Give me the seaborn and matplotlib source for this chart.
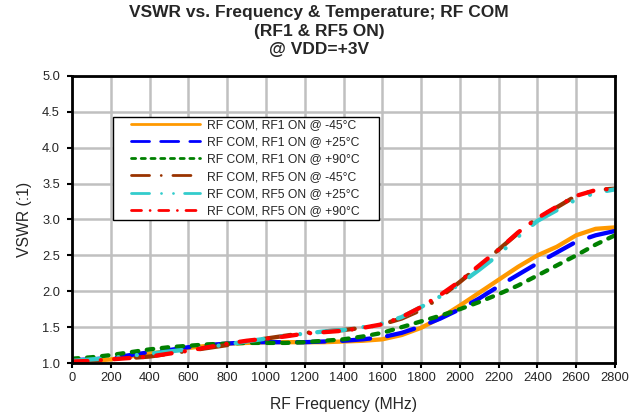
import numpy as np
import pandas as pd
import seaborn as sns
import matplotlib
matplotlib.use("Agg")
import matplotlib.pyplot as plt
from matplotlib.patches import Rectangle

freq = list(range(0, 2900, 100))

rf1_m45 = [1.02, 1.03, 1.05, 1.09, 1.13, 1.17, 1.21, 1.24, 1.27, 1.28, 1.29, 1.29, 1.29, 1.29, 1.30,
           1.31, 1.33, 1.39, 1.49, 1.63, 1.80, 1.98, 2.16, 2.34, 2.50, 2.62, 2.78, 2.87, 2.89]
rf1_p25 = [1.04, 1.05, 1.07, 1.11, 1.15, 1.18, 1.22, 1.25, 1.27, 1.29, 1.29, 1.29, 1.29, 1.30, 1.31,
           1.33, 1.36, 1.42, 1.51, 1.62, 1.75, 1.90, 2.07, 2.23, 2.39, 2.54, 2.69, 2.78, 2.84]
rf1_p90 = [1.06, 1.08, 1.11, 1.15, 1.19, 1.22, 1.24, 1.26, 1.27, 1.28, 1.28, 1.28, 1.29, 1.31, 1.33,
           1.37, 1.42, 1.50, 1.58, 1.66, 1.75, 1.85, 1.96, 2.08, 2.22, 2.36, 2.50, 2.65, 2.78]
rf5_m45 = [1.03, 1.04, 1.05, 1.07, 1.09, 1.13, 1.17, 1.21, 1.25, 1.30, 1.34, 1.38, 1.42, 1.44, 1.46,
           1.49, 1.54, 1.62, 1.74, 1.92, 2.13, 2.35, 2.58, 2.81, 3.02, 3.17, 3.33, 3.41, 3.43]
rf5_p25 = [1.03, 1.05, 1.07, 1.10, 1.13, 1.16, 1.19, 1.22, 1.26, 1.30, 1.34, 1.38, 1.41, 1.44, 1.46,
           1.50, 1.55, 1.64, 1.78, 1.93, 2.10, 2.30, 2.51, 2.76, 2.98, 3.13, 3.28, 3.37, 3.42]
rf5_p90 = [1.02, 1.03, 1.05, 1.07, 1.09, 1.13, 1.17, 1.22, 1.27, 1.31, 1.34, 1.37, 1.41, 1.43, 1.45,
           1.49, 1.54, 1.64, 1.78, 1.95, 2.14, 2.36, 2.58, 2.82, 3.02, 3.18, 3.33, 3.41, 3.43]

labels = ["RF COM, RF1 ON @ -45°C", "RF COM, RF1 ON @ +25°C", "RF COM, RF1 ON @ +90°C",
          "RF COM, RF5 ON @ -45°C", "RF COM, RF5 ON @ +25°C", "RF COM, RF5 ON @ +90°C"]
series = [rf1_m45, rf1_p25, rf1_p90, rf5_m45, rf5_p25, rf5_p90]
colors = ["#FF9900", "#0000FF", "#008000", "#993300", "#33CCCC", "#FF0000"]
dashes = ["", (6.5, 4.0), (1.5, 2.0), (6.5, 4.2, 0.01, 4.2), (6.5, 4.3, 0.01, 4.3, 0.01, 4.0),
          (3.6, 3.1, 0.01, 3.1)]

rows = []
for lab, vals in zip(labels, series):
    for f, v in zip(freq, vals):
        rows.append({"freq": f, "vswr": v, "series": lab})
df = pd.DataFrame(rows)

sns.set_theme(style="white")
plt.rcParams["font.family"] = ["Liberation Sans", "DejaVu Sans"]

fig = plt.figure(figsize=(6.38, 4.13), dpi=100)
ax = fig.add_axes([72 / 638, 1 - 363 / 413, 543 / 638, 287 / 413])

sns.lineplot(data=df, x="freq", y="vswr", hue="series", style="series",
             palette=dict(zip(labels, colors)), dashes=dict(zip(labels, dashes)),
             linewidth=3.1, ax=ax, legend=True)
for ln in ax.get_lines():
    ln.set_dash_capstyle("round")
    ln.set_solid_capstyle("round")

ax.set_xlim(0, 2800)
ax.set_ylim(1.0, 5.0)
ax.set_xticks(range(0, 2801, 200))
ax.set_yticks(np.arange(1.0, 5.01, 0.5))
ax.set_yticklabels([f"{v:.1f}" for v in np.arange(1.0, 5.01, 0.5)])
ax.grid(True, color="#c0c0c0", linewidth=1.8)
ax.set_axisbelow(True)
for s in ax.spines.values():
    s.set_color("black")
    s.set_linewidth(2.0)
ax.tick_params(axis="both", direction="out", length=3.6, width=1.5, color="black",
               labelsize=9.3, pad=3, bottom=True, left=True)
ax.tick_params(axis="y", pad=5)
ax.set_xlabel("RF Frequency (MHz)", fontsize=11.3, labelpad=9)
ax.set_ylabel("VSWR (:1)", fontsize=11.3, labelpad=7)
fig.text(0.5, 1 - 5 / 413, "VSWR vs. Frequency & Temperature; RF COM\n(RF1 & RF5 ON)\n@ VDD=+3V",
         fontsize=12.5, fontweight="bold", ha="center", va="top", linespacing=1.3)

# legend frame box
ax.add_patch(Rectangle(((113 - 72) / 543, (363 - 220) / 287), (379 - 113) / 543, 103 / 287,
                       transform=ax.transAxes, facecolor="white", edgecolor="black",
                       linewidth=1.0, zorder=4))
leg = ax.legend(loc="upper left", bbox_to_anchor=((131 - 72) / 543, (363 - 119) / 287),
                borderaxespad=0, fontsize=8.7, frameon=False, handlelength=5.7,
                labelspacing=0.43, borderpad=0, handletextpad=0.58)
leg.set_zorder(5)
for h in leg.get_lines():
    h.set_linewidth(2.0)
    h.set_dash_capstyle("round")

fig.savefig("out.png", dpi=100)
